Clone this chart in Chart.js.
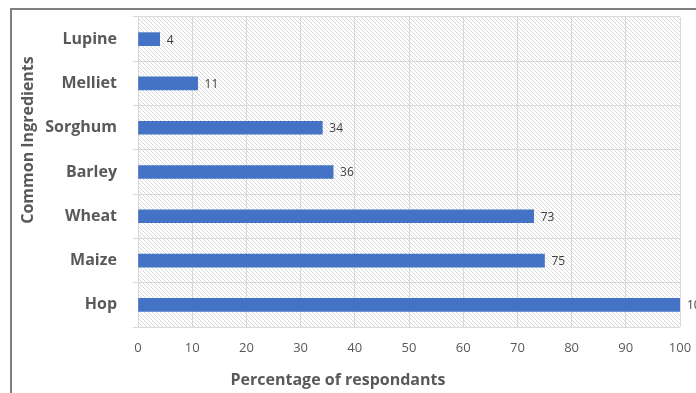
<!DOCTYPE html>
<html><head><meta charset="utf-8">
<script src="https://cdn.jsdelivr.net/npm/chart.js@4/dist/chart.umd.min.js"></script>
<style>html,body{margin:0;padding:0;background:#fff;overflow:hidden}#wrap{width:696px;height:393px;position:relative}</style>
</head><body><div id="wrap"><canvas id="c" width="696" height="393"></canvas></div>
<script>
const categories = ["Lupine", "Melliet", "Sorghum", "Barley", "Wheat", "Maize", "Hop"];
const values = [4, 11, 34, 36, 73, 75, 100];
const xTicks = [0, 10, 20, 30, 40, 50, 60, 70, 80, 90, 100];
const xTitle = 'Percentage of respondants';
const yTitle = 'Common Ingredients';

function hatch() {
  const p = document.createElement('canvas');
  p.width = 4; p.height = 4;
  const g = p.getContext('2d');
  g.fillStyle = '#ffffff'; g.fillRect(0, 0, 4, 4);
  g.strokeStyle = '#d9d9d9'; g.lineWidth = 1;
  g.beginPath();
  g.moveTo(0, 0); g.lineTo(4, 4);
  g.moveTo(-2, 2); g.lineTo(2, 6);
  g.moveTo(2, -2); g.lineTo(6, 2);
  g.stroke();
  return p;
}

const bgPlugin = {
  id: 'bg',
  beforeDraw(chart) {
    const ctx = chart.ctx, a = chart.chartArea;
    ctx.save();
    ctx.strokeStyle = '#7f7f7f'; ctx.lineWidth = 2;
    ctx.beginPath();
    ctx.moveTo(11, 400); ctx.lineTo(11, 9); ctx.lineTo(700, 9);
    ctx.stroke();
    ctx.fillStyle = ctx.createPattern(hatch(), 'repeat');
    ctx.fillRect(a.left, a.top, a.right - a.left, a.bottom - a.top);
    ctx.restore();
  },
  afterDraw(chart) {
    const ctx = chart.ctx;
    ctx.save();
    ctx.font = 'bold 16px "Open Sans", sans-serif';
    ctx.fillStyle = '#595959';
    ctx.textAlign = 'center';
    ctx.textBaseline = 'middle';
    ctx.fillText(xTitle, 338, 380);
    ctx.translate(28, 140);
    ctx.rotate(-Math.PI / 2);
    ctx.fillText(yTitle, 0, 0);
    ctx.restore();
  }
};

const labelPlugin = {
  id: 'vals',
  afterDatasetsDraw(chart) {
    const ctx = chart.ctx;
    const meta = chart.getDatasetMeta(0);
    ctx.save();
    ctx.font = '12px "Open Sans", sans-serif';
    ctx.fillStyle = '#404040';
    ctx.textBaseline = 'middle';
    ctx.textAlign = 'left';
    meta.data.forEach((el, i) => {
      ctx.fillText(String(values[i]), el.x + 7, el.y + 1);
    });
    ctx.restore();
  }
};

new Chart(document.getElementById('c'), {
  type: 'bar',
  data: {
    labels: categories,
    datasets: [{ data: values, backgroundColor: '#4472C4', borderWidth: 0, barThickness: 13 }]
  },
  options: {
    indexAxis: 'y',
    responsive: false,
    animation: false,
    events: [],
    layout: { padding: { left: 20, top: 17, right: 16, bottom: 0 } },
    plugins: { legend: { display: false }, tooltip: { enabled: false } },
    scales: {
      x: {
        min: 0, max: 100,
        afterBuildTicks(s) { s.ticks = xTicks.map(v => ({ value: v })); },
        afterFit(s) { s.height = 66; s.paddingLeft = 0; s.paddingRight = 0; },
        grid: { color: '#d9d9d9', drawTicks: false },
        border: { display: false },
        ticks: { padding: 13, maxRotation: 0, color: '#595959', font: { family: '"Open Sans", sans-serif', size: 13 } }
      },
      y: {
        afterFit(s) { s.width = 118; s.paddingTop = 0; s.paddingBottom = 0; },
        grid: { color: '#d9d9d9', offset: true, tickLength: 5 },
        border: { display: false },
        ticks: { padding: 16, color: '#595959', font: { family: '"Open Sans", sans-serif', size: 16, weight: 'bold' } }
      }
    }
  },
  plugins: [bgPlugin, labelPlugin]
});
</script></body></html>
